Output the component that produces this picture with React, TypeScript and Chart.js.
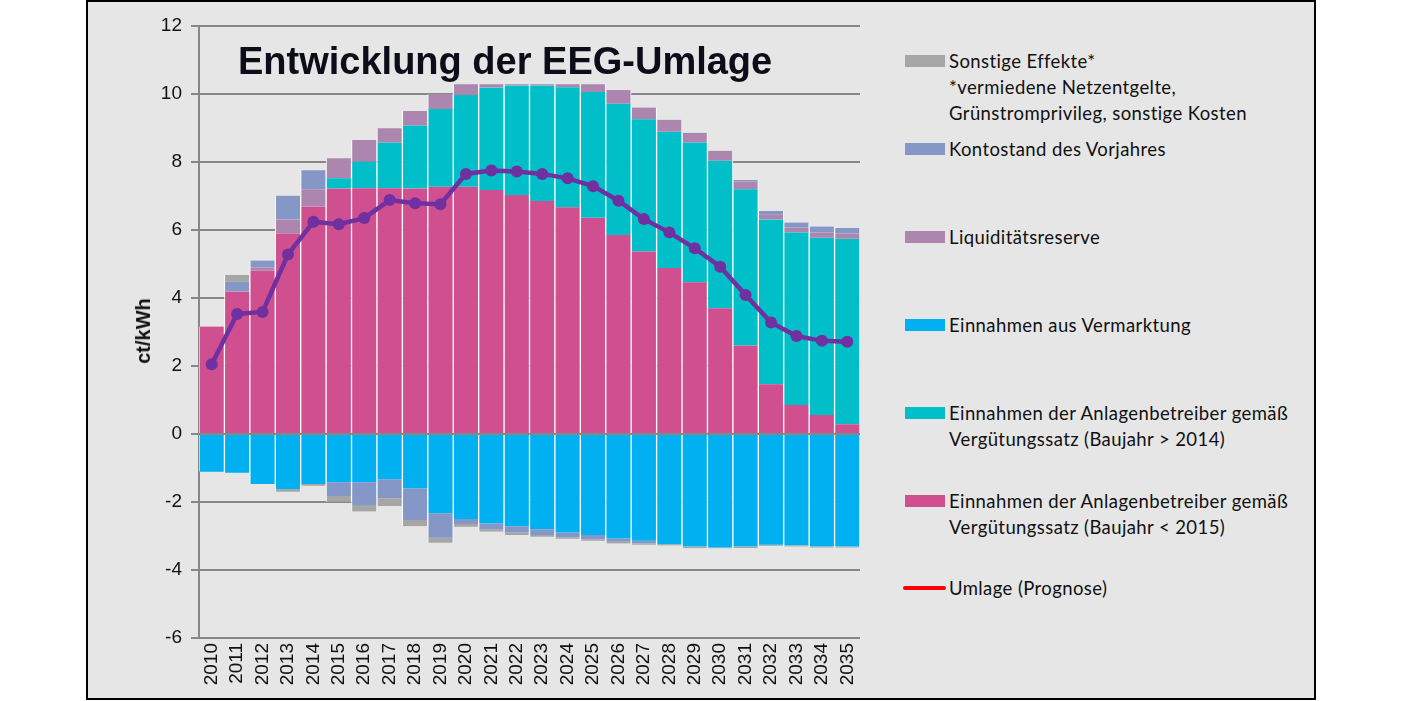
import React, { useEffect, useRef } from "react";
import { Chart, registerables } from "chart.js";

Chart.register(...registerables);

const years = [
  "2010", "2011", "2012", "2013", "2014", "2015", "2016", "2017", "2018",
  "2019", "2020", "2021", "2022", "2023", "2024", "2025", "2026", "2027",
  "2028", "2029", "2030", "2031", "2032", "2033", "2034", "2035",
];

// Einnahmen der Anlagenbetreiber (Baujahr < 2015)
const altAnlagen = [
  3.16, 4.19, 4.8, 5.9, 6.69, 7.22, 7.23, 7.23, 7.22, 7.27, 7.27, 7.18, 7.03,
  6.85, 6.67, 6.36, 5.85, 5.37, 4.88, 4.46, 3.7, 2.6, 1.46, 0.85, 0.56, 0.29,
];
// Einnahmen der Anlagenbetreiber (Baujahr > 2014)
const neuAnlagen = [
  0, 0, 0, 0, 0, 0.3, 0.78, 1.34, 1.85, 2.29, 2.7, 3.01, 3.22, 3.4, 3.53, 3.7,
  3.86, 3.89, 4.01, 4.11, 4.34, 4.6, 4.85, 5.08, 5.21, 5.45,
];
// Einnahmen aus Vermarktung
const vermarktung = [
  -1.11, -1.14, -1.47, -1.62, -1.47, -1.42, -1.42, -1.33, -1.6, -2.33, -2.5,
  -2.63, -2.71, -2.8, -2.9, -2.97, -3.07, -3.14, -3.24, -3.31, -3.34, -3.31,
  -3.26, -3.28, -3.31, -3.31,
];
// Liquiditätsreserve
const liquiditaet = [
  0, 0, 0.1, 0.41, 0.51, 0.59, 0.64, 0.42, 0.43, 0.44, 0.32, 0.1, 0.04, 0.04,
  0.09, 0.23, 0.41, 0.34, 0.35, 0.29, 0.29, 0.23, 0.15, 0.14, 0.16, 0.16,
];
// Kontostand des Vorjahres
const kontostand = [
  0, 0.29, 0.2, 0.7, 0.56, -0.4, -0.67, -0.56, -0.93, -0.72, -0.15, -0.17,
  -0.19, -0.17, -0.14, -0.13, -0.1, -0.07, 0, 0, 0, 0.04, 0.1, 0.15, 0.17, 0.16,
];
// Sonstige Effekte
const sonstige = [
  0, 0.2, 0, -0.08, -0.05, -0.17, -0.19, -0.23, -0.18, -0.15, -0.08, -0.07,
  -0.07, -0.05, -0.04, -0.04, -0.05, -0.05, -0.04, -0.05, -0.02, -0.04, -0.03,
  -0.03, -0.03, -0.03,
];
// Umlage (Prognose)
const umlage = [
  2.05, 3.53, 3.59, 5.28, 6.24, 6.17, 6.35, 6.88, 6.79, 6.76, 7.65, 7.75, 7.72,
  7.65, 7.52, 7.29, 6.86, 6.32, 5.93, 5.46, 4.92, 4.09, 3.28, 2.88, 2.74, 2.71,
];

const yTicks = [-6, -4, -2, 0, 2, 4, 6, 8, 10, 12];

const C_ALT = "#cf4f8f";
const C_NEU = "#00bfc8";
const C_VERM = "#00b0f0";
const C_LIQ = "#ad86b0";
const C_KONTO = "#8497c6";
const C_SONST = "#a6a6a6";
const C_LINE = "#7030a0";
const C_LEG_LINE = "#ff0000";

const legendItems = [
  { lines: ["Sonstige Effekte*", "*vermiedene Netzentgelte,", "Grünstromprivileg, sonstige Kosten"], color: C_SONST, y: 61, line: false },
  { lines: ["Kontostand des Vorjahres"], color: C_KONTO, y: 149, line: false },
  { lines: ["Liquiditätsreserve"], color: C_LIQ, y: 237, line: false },
  { lines: ["Einnahmen aus Vermarktung"], color: C_VERM, y: 325, line: false },
  { lines: ["Einnahmen der Anlagenbetreiber gemäß", "Vergütungssatz (Baujahr > 2014)"], color: C_NEU, y: 413, line: false },
  { lines: ["Einnahmen der Anlagenbetreiber gemäß", "Vergütungssatz (Baujahr < 2015)"], color: C_ALT, y: 501, line: false },
  { lines: ["Umlage (Prognose)"], color: C_LEG_LINE, y: 588, line: true },
];

const nz = (arr: number[]) => arr.map((v) => (v === 0 ? null : v));

const barCommon = {
  type: "bar" as const,
  borderColor: "rgba(255,255,255,0.9)",
  borderWidth: { left: 1, right: 1, top: 0, bottom: 0 },
  borderSkipped: false as const,
  barPercentage: 1,
  categoryPercentage: 1,
  order: 2,
};

export default function App() {
  const ref = useRef<HTMLCanvasElement>(null);

  useEffect(() => {
    if (!ref.current) return;
    const font = "'Liberation Sans', Arial, sans-serif";
    const chart = new Chart(ref.current, {
      type: "bar",
      data: {
        labels: years,
        datasets: [
          { ...barCommon, label: "Einnahmen der Anlagenbetreiber gemäß Vergütungssatz (Baujahr < 2015)", data: nz(altAnlagen), backgroundColor: C_ALT },
          { ...barCommon, label: "Einnahmen der Anlagenbetreiber gemäß Vergütungssatz (Baujahr > 2014)", data: nz(neuAnlagen), backgroundColor: C_NEU },
          { ...barCommon, label: "Einnahmen aus Vermarktung", data: nz(vermarktung), backgroundColor: C_VERM },
          { ...barCommon, label: "Liquiditätsreserve", data: nz(liquiditaet), backgroundColor: C_LIQ },
          { ...barCommon, label: "Kontostand des Vorjahres", data: nz(kontostand), backgroundColor: C_KONTO },
          { ...barCommon, label: "Sonstige Effekte*", data: nz(sonstige), backgroundColor: C_SONST },
          {
            type: "line",
            label: "Umlage (Prognose)",
            data: umlage,
            borderColor: C_LINE,
            backgroundColor: C_LINE,
            borderWidth: 4.5,
            pointRadius: 6,
            pointBackgroundColor: C_LINE,
            pointBorderWidth: 0,
            tension: 0,
            order: 0,
          } as any,
        ],
      },
      options: {
        animation: false,
        responsive: true,
        maintainAspectRatio: false,
        layout: { padding: { left: 0, top: 26, right: 40, bottom: 0 } },
        plugins: {
          legend: { display: false },
          tooltip: { enabled: false },
          title: { display: false },
        },
        scales: {
          x: {
            stacked: true,
            grid: { display: false, drawTicks: false },
            border: { display: false },
            ticks: {
              autoSkip: false,
              minRotation: 90,
              maxRotation: 90,
              padding: 5,
              color: "#111",
              font: { family: font, size: 19 },
            },
            afterFit: (scale: any) => {
              scale.height = 63;
            },
          },
          y: {
            stacked: true,
            min: -6,
            max: 12,
            afterBuildTicks: (scale: any) => {
              scale.ticks = yTicks.map((v) => ({ value: v }));
            },
            grid: { color: "#878787", lineWidth: 2, tickLength: 8 },
            border: { display: true, color: "#878787", width: 2 },
            ticks: {
              padding: 9,
              color: "#111",
              font: { family: font, size: 19 },
            },
            afterFit: (scale: any) => {
              scale.width = 199;
            },
          },
        },
      },
    });
    return () => chart.destroy();
  }, []);

  return (
    <div style={{ position: "fixed", left: 0, top: 0, width: 1402, height: 701, background: "#fff", overflow: "hidden" }}>
      <div
        style={{
          position: "absolute",
          left: 86,
          top: 0,
          width: 1230,
          height: 700,
          boxSizing: "border-box",
          border: "2px solid #000",
          background: "#e6e6e6",
        }}
      />
      <div style={{ position: "absolute", left: 0, top: 0, width: 900, height: 701 }}>
        <canvas ref={ref} />
      </div>
      <div
        style={{
          position: "absolute",
          left: 238,
          top: 42,
          fontFamily: "'Liberation Sans', Arial, sans-serif",
          fontWeight: "bold",
          fontSize: 38,
          lineHeight: "38px",
          color: "#0d0d1a",
          whiteSpace: "nowrap",
        }}
      >
        Entwicklung der EEG-Umlage
      </div>
      <div
        style={{
          position: "absolute",
          left: 143,
          top: 331,
          transform: "translate(-50%, -50%) rotate(-90deg)",
          fontFamily: "'Liberation Sans', Arial, sans-serif",
          fontWeight: "bold",
          fontSize: 20,
          lineHeight: "20px",
          color: "#111",
          whiteSpace: "nowrap",
        }}
      >
        ct/kWh
      </div>
      {legendItems.map((it, i) => (
        <div key={i}>
          <div
            style={{
              position: "absolute",
              left: it.line ? 903 : 905,
              top: it.line ? it.y - 2 : it.y - 6,
              width: it.line ? 43 : 40,
              height: it.line ? 4 : 12,
              borderRadius: it.line ? 2 : 0,
              background: it.color,
            }}
          />
          {it.lines.map((t, j) => (
            <div
              key={j}
              style={{
                position: "absolute",
                left: 949,
                top: it.y - 13 + j * 26,
                height: 26,
                lineHeight: "26px",
                fontFamily: "Lato, 'Open Sans', sans-serif",
                fontSize: 18.5,
                letterSpacing: "0.4px",
                color: "#111",
                whiteSpace: "nowrap",
              }}
            >
              {t}
            </div>
          ))}
        </div>
      ))}
    </div>
  );
}
